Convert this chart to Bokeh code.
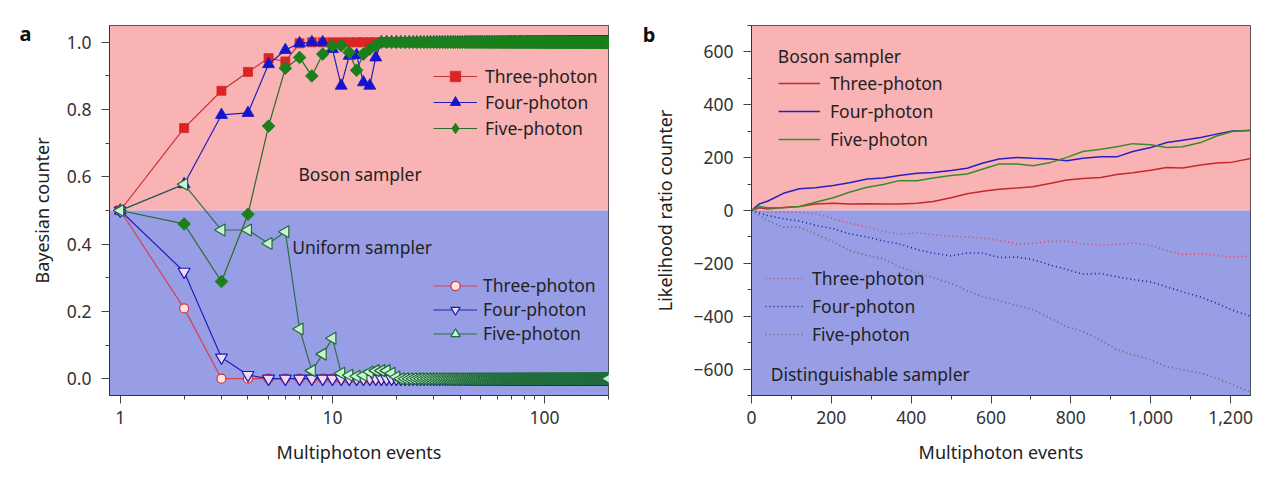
import math
from bokeh.plotting import figure
from bokeh.layouts import row
from bokeh.models import (Range1d, BoxAnnotation, Legend, LegendItem, Label, LinearAxis,
                          FixedTicker, PrintfTickFormatter, NumeralTickFormatter,
                          CustomJSTickFormatter)
from bokeh.embed import file_html
from bokeh.resources import INLINE

FONT = "Noto Sans"
PINK = "#f9b3b4"
BLUE = "#989ee6"
TXT = "#222222"
FS = "17.5px"

# ---- panel a: Bayesian counter, log x ----
a_events = list(range(1, 201))
three_boson = [0.5, 0.745, 0.856, 0.912, 0.953, 0.943, 0.997] + [1.0] * 193
four_boson = [0.5, 0.578, 0.784, 0.79, 0.935, 0.977, 0.997, 1.0, 1.0, 0.98,
              0.871, 0.96, 0.962, 0.881, 0.871, 0.955, 1.0] + [1.0] * 183
five_boson = [0.5, 0.46, 0.289, 0.489, 0.751, 0.923, 0.955, 0.9, 0.965, 0.99,
              0.99, 0.97, 0.917, 0.965, 0.98, 0.99, 1.0] + [1.0] * 183
three_uniform = [0.5, 0.209, 0.0, 0.0] + [0.0] * 196
four_uniform = [0.5, 0.318, 0.063, 0.011] + [0.0] * 196
five_uniform = [0.5, 0.578, 0.442, 0.442, 0.402, 0.437, 0.148, 0.024, 0.073, 0.12,
                0.016, 0.01, 0.007, 0.01, 0.02, 0.024, 0.024, 0.024, 0.016, 0.005] + [0.0] * 180

a_yticks = [0.0, 0.2, 0.4, 0.6, 0.8, 1.0]
a_yminor = [0.1, 0.3, 0.5, 0.7, 0.9]
a_xticks = [1, 10, 100]
a_xminor = [2, 3, 4, 5, 6, 7, 8, 9, 20, 30, 40, 50, 60, 70, 80, 90, 200]

# ---- panel b: likelihood ratio counter ----
b_events = [0, 20, 40, 80, 120, 160, 205, 245, 290, 330, 370, 415, 455, 500, 540, 580,
            620, 665, 705, 750, 790, 830, 875, 915, 955, 1000, 1040, 1080, 1125, 1165, 1205, 1250]
three_boson_b = [0, 10, 6, 11, 15, 25, 27, 25, 26, 25, 25, 27, 34, 48, 63, 73,
                 80, 85, 90, 103, 115, 121, 125, 136, 143, 152, 163, 161, 172, 180, 183, 197]
four_boson_b = [0, 25, 35, 65, 82, 86, 95, 105, 119, 123, 132, 141, 144, 151, 160, 180,
                195, 201, 198, 195, 188, 198, 203, 203, 223, 238, 257, 266, 276, 289, 301, 303]
five_boson_b = [0, 15, 10, 10, 15, 31, 48, 69, 88, 98, 113, 113, 123, 132, 138, 157,
                176, 176, 169, 182, 201, 223, 232, 241, 253, 249, 238, 241, 257, 282, 299, 304]
three_dist_b = [0, -3, -6, -6, -6, -12, -31, -48, -63, -78, -90, -84, -92, -98, -100, -104,
                -113, -126, -125, -117, -116, -126, -132, -128, -123, -132, -151, -167, -163, -170, -176, -172]
four_dist_b = [0, -10, -19, -31, -40, -56, -69, -88, -100, -116, -126, -148, -161, -172, -161, -161,
               -178, -176, -186, -207, -223, -241, -238, -251, -261, -270, -289, -308, -327, -351, -377, -400]
five_dist_b = [0, -19, -38, -63, -63, -88, -119, -151, -170, -182, -213, -236, -254, -276, -304, -327,
               -340, -360, -375, -408, -440, -458, -490, -527, -546, -565, -590, -603, -615, -634, -659, -688]

b_xticks = [0, 200, 400, 600, 800, 1000, 1200]
b_xminor = [100, 300, 500, 700, 900, 1100]
b_yticks = [-600, -400, -200, 0, 200, 400, 600]
b_yminor = [-700, -500, -300, -100, 100, 300, 500, 700]

labels = ["Three-photon", "Four-photon", "Five-photon"]


def style(p, ylabel_standoff):
    p.xgrid.visible = False
    p.ygrid.visible = False
    p.outline_line_color = "#333333"
    for ax in (p.xaxis[0], p.yaxis[0]):
        ax.axis_line_color = "#333333"
        ax.major_tick_line_color = "#444444"
        ax.minor_tick_line_color = "#444444"
        ax.major_tick_in = 0
        ax.minor_tick_in = 0
        ax.major_tick_out = 8
        ax.minor_tick_out = 4
        ax.major_label_text_font = FONT
        ax.major_label_text_font_size = FS
        ax.major_label_text_color = "#333333"
        ax.axis_label_text_font = FONT
        ax.axis_label_text_font_size = "18px"
        ax.axis_label_text_font_style = "normal"
        ax.axis_label_text_color = TXT
    p.xaxis.major_label_standoff = 7
    p.yaxis.major_label_standoff = 10
    p.xaxis.axis_label_standoff = 13
    p.yaxis.axis_label_standoff = ylabel_standoff


def panel_letter(p, text, at, standoff):
    # a bare outer left axis whose single tick label is the panel letter
    ax = LinearAxis(ticker=FixedTicker(ticks=[at], minor_ticks=[]),
                    major_label_overrides={at: text})
    ax.axis_line_color = None
    ax.major_tick_line_color = None
    ax.minor_tick_line_color = None
    ax.major_tick_out = 0
    ax.major_label_standoff = standoff
    ax.major_label_text_font = FONT
    ax.major_label_text_font_size = "20px"
    ax.major_label_text_font_style = "bold"
    ax.major_label_text_color = "#111111"
    p.add_layout(ax, "left")


def bands(p, split):
    p.add_layout(BoxAnnotation(bottom=split, fill_color=PINK, fill_alpha=1,
                               line_alpha=0, level="underlay"))
    p.add_layout(BoxAnnotation(top=split, fill_color=BLUE, fill_alpha=1,
                               line_alpha=0, level="underlay"))


def legend(p, items, x, y, spacing, gw, gh, standoff):
    lg = Legend(items=items, location=(x, y), orientation="vertical",
                background_fill_alpha=0, border_line_alpha=0, padding=0, margin=0,
                spacing=spacing, glyph_width=gw, glyph_height=gh, label_height=20,
                label_standoff=standoff, label_text_font=FONT,
                label_text_font_size=FS, label_text_color=TXT)
    p.add_layout(lg)


# ================= panel a =================
pa = figure(frame_width=499, frame_height=370, x_axis_type="log",
            x_range=Range1d(0.89, 200), y_range=Range1d(-0.05, 1.05),
            min_border_left=109, min_border_right=26, min_border_top=25, min_border_bottom=77,
            output_backend="svg", toolbar_location=None, tools="")
style(pa, 10)
bands(pa, 0.5)
pa.xaxis.ticker = FixedTicker(ticks=a_xticks, minor_ticks=a_xminor)
pa.xaxis.formatter = PrintfTickFormatter(format="%d")
pa.yaxis.ticker = FixedTicker(ticks=a_yticks, minor_ticks=a_yminor)
pa.yaxis.formatter = PrintfTickFormatter(format="%.1f")
pa.xaxis.axis_label = "Multiphoton events"
pa.yaxis.axis_label = "Bayesian counter"
panel_letter(pa, "a", 1.025, -5)

boson_specs = [
    (three_boson, "#c83232", "#dc2424", "square", 9, 0.0, "square"),
    (four_boson, "#2020b8", "#1414cc", "triangle", 12, 0.0, "triangle"),
    (five_boson, "#2a6a2a", "#1b7f1b", "square", 9, math.pi / 4, "diamond"),
]
uniform_specs = [
    (three_uniform, "#d8404f", "#fde4e4", "#d8303f", "circle", 9, 0.0),
    (four_uniform, "#2020b8", "#f1d8f2", "#1a1ab0", "inverted_triangle", 12, 0.0),
    (five_uniform, "#2e6e48", "#c9f2cf", "#1f6a3a", "triangle", 12, math.pi / 2),
]

boson_items = []
for (vals, lc, mc, mk, sz, ang, key), lab in zip(boson_specs, labels):
    ln = pa.line(a_events, vals, line_color=lc, line_width=1.2)
    sc = pa.scatter(a_events, vals, marker=mk, size=sz, angle=ang,
                    fill_color=mc, line_color=mc, line_width=0.8)
    if key != mk:
        # legend key: the shared start point, hidden under the other markers
        sc = pa.scatter(a_events[:1], vals[:1], marker=key, size=8,
                        fill_color=mc, line_color=mc)
    boson_items.append(LegendItem(label=lab, renderers=[ln, sc]))

uniform_items = []
for (vals, lc, fc, ec, mk, sz, ang), lab in zip(uniform_specs, labels):
    ln = pa.line(a_events, vals, line_color=lc, line_width=1.2)
    sc = pa.scatter(a_events, vals, marker=mk, size=sz, angle=ang,
                    fill_color=fc, line_color=ec, line_width=1.2)
    uniform_items.append(LegendItem(label=lab, renderers=[ln, sc]))

legend(pa, boson_items, 324, 254, 0, 44, 26, 8)
legend(pa, uniform_items, 324, 50, 0, 44, 23, 6)

pa.add_layout(Label(x=13.5, y=0.609, text="Boson sampler", text_align="center",
                    text_baseline="middle", text_font=FONT, text_font_size=FS,
                    text_color=TXT))
pa.add_layout(Label(x=13.8, y=0.392, text="Uniform sampler", text_align="center",
                    text_baseline="middle", text_font=FONT, text_font_size=FS,
                    text_color=TXT))

# ================= panel b =================
pb = figure(frame_width=499, frame_height=370,
            x_range=Range1d(0, 1250), y_range=Range1d(-700, 700),
            min_border_left=117, min_border_right=22, min_border_top=25, min_border_bottom=77,
            output_backend="svg", toolbar_location=None, tools="")
style(pb, 13)
bands(pb, 0)
pb.xaxis.ticker = FixedTicker(ticks=b_xticks, minor_ticks=b_xminor)
pb.xaxis.formatter = NumeralTickFormatter(format="0,0")
pb.yaxis.ticker = FixedTicker(ticks=b_yticks, minor_ticks=b_yminor)
pb.yaxis.formatter = CustomJSTickFormatter(
    code="return tick < 0 ? '\u2212' + Math.abs(tick) : String(tick);")
pb.xaxis.axis_label = "Multiphoton events"
pb.yaxis.axis_label = "Likelihood ratio counter"
panel_letter(pb, "b", 665, -5)

solid = [(three_boson_b, "#c8282c"), (four_boson_b, "#2a1fc0"), (five_boson_b, "#3a8a2a")]
dotted = [(three_dist_b, "#e0445e"), (four_dist_b, "#1a1a9a"), (five_dist_b, "#4f6f6a")]

b_boson_items = []
for (vals, col), lab in zip(solid, labels):
    r = pb.line(b_events, vals, line_color=col, line_width=1.5)
    b_boson_items.append(LegendItem(label=lab, renderers=[r]))
b_dist_items = []
for (vals, col), lab in zip(dotted, labels):
    r = pb.line(b_events, vals, line_color=col, line_width=1.6, line_dash="1 3")
    b_dist_items.append(LegendItem(label=lab, renderers=[r]))

legend(pb, b_boson_items, 27, 244, 4, 42, 20, 10)
legend(pb, b_dist_items, 14, 49, 4, 40, 20, 7)

pb.add_layout(Label(x=66, y=584, text="Boson sampler", text_baseline="middle",
                    text_font=FONT, text_font_size=FS, text_color=TXT))
pb.add_layout(Label(x=48, y=-618, text="Distinguishable sampler", text_baseline="middle",
                    text_font=FONT, text_font_size=FS, text_color=TXT))

layout = row(pa, pb)
open("out.html", "w").write(file_html(layout, INLINE))
